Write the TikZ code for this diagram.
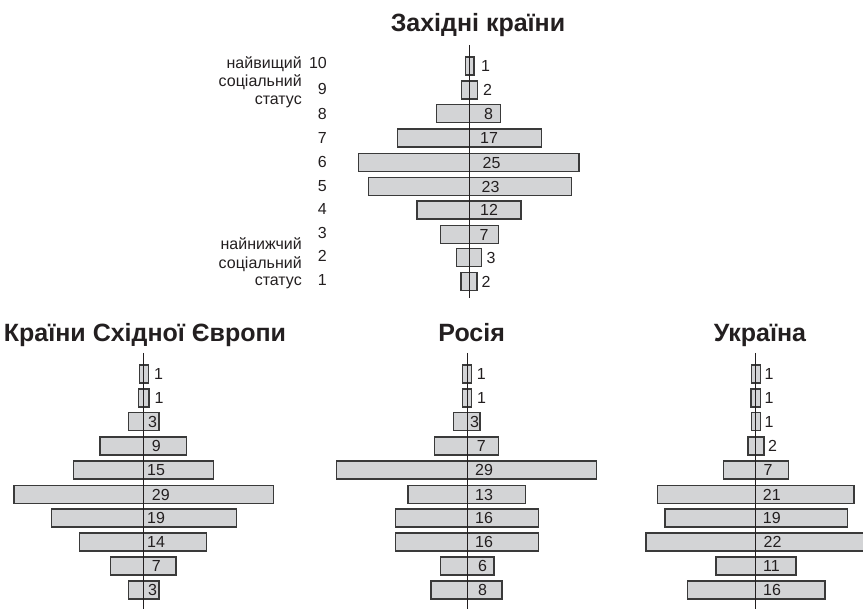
\documentclass[tikz,border=0pt]{standalone}
\usepackage{fontspec}
\setmainfont{Liberation Sans}
\definecolor{barfill}{HTML}{D3D4D6}
\definecolor{barline}{HTML}{3A3A3A}
\definecolor{ink}{HTML}{231F20}
\tikzset{
  barbox/.style={draw=barline, fill=barfill, line width=1.1pt},
  axisline/.style={draw=ink, line width=0.9pt},
  vallab/.style={anchor=west, inner sep=0pt, text=ink, font=\fontsize{16}{18}\selectfont},
  sidelab/.style={anchor=base east, inner sep=0pt, text=ink, font=\fontsize{16}{18}\selectfont},
  ttl/.style={anchor=base, inner sep=0pt, text=ink, font=\fontsize{25}{28}\selectfont\bfseries},
}
% #1 name, #2 centre y, #3 left x, #4 right x, #5 label, #6 label x
\newcommand\pbar[6]{%
  \draw[barbox] (#3,{#2-9}) rectangle (#4,{#2+9});
  \node[vallab] (#1) at (#6,#2) {#5};
}
\begin{document}
\begin{tikzpicture}[x=1pt,y=-1pt]
\useasboundingbox (0,0) rectangle (863,609);

% ---------- Західні країни ----------
\node[ttl] (t0) at (478,31.7) {Західні країни};
\pbar{a10}{66}{465.3}{474}{1}{481}
\pbar{a9}{90}{461.3}{477.3}{2}{483}
\pbar{a8}{113.5}{436.7}{500.7}{8}{484}
\pbar{a7}{138}{397.3}{541.7}{17}{480}
\pbar{a6}{162.5}{358.7}{579}{25}{482.5}
\pbar{a5}{186.5}{368.3}{571.3}{23}{481.5}
\pbar{a4}{210}{417}{521}{12}{480}
\pbar{a3}{234.5}{440.7}{498.3}{7}{479.5}
\pbar{a2}{257.5}{456.7}{481.7}{3}{486.5}
\pbar{a1}{281.5}{461}{477}{2}{481.5}
\coordinate (ta) at (469,45);
\coordinate (tb) at (469,298);
\draw[axisline] (ta) -- (tb);

% side labels
\node[sidelab] (n10) at (327,68.3) {10};
\node[sidelab] (n9) at (327,95) {9};
\node[sidelab] (n8) at (327,119.3) {8};
\node[sidelab] (n7) at (327,143.3) {7};
\node[sidelab] (n6) at (327,167.3) {6};
\node[sidelab] (n5) at (327,191.5) {5};
\node[sidelab] (n4) at (327,215) {4};
\node[sidelab] (n3) at (327,239) {3};
\node[sidelab] (n2) at (327,262) {2};
\node[sidelab] (n1) at (327,286) {1};
\node[sidelab] (h1) at (302,68.3) {найвищий};
\node[sidelab] (h2) at (302,86.8) {соціальний};
\node[sidelab] (h3) at (302,105) {статус};
\node[sidelab] (l1) at (302,250) {найнижчий};
\node[sidelab] (l2) at (302,268.5) {соціальний};
\node[sidelab] (l3) at (302,286) {статус};

% ---------- Країни Східної Європи ----------
\node[ttl] (t1) at (145,342) {Країни Східної Європи};
\pbar{b10}{374}{139.3}{148.3}{1}{154}
\pbar{b9}{398}{138.7}{149}{1}{154.5}
\pbar{b8}{421.5}{128.3}{159}{3}{148}
\pbar{b7}{446}{100}{186.7}{9}{151.7}
\pbar{b6}{470}{73.3}{213.3}{15}{147}
\pbar{b5}{494.5}{14}{273.3}{29}{151.7}
\pbar{b4}{518}{51.7}{236.7}{19}{147}
\pbar{b3}{542}{79.3}{206.7}{14}{147}
\pbar{b2}{566}{110.3}{176}{7}{151.7}
\pbar{b1}{590}{128.3}{159}{3}{148}
\coordinate (ba) at (143.3,353);
\coordinate (bb) at (143.3,609);
\draw[axisline] (ba) -- (bb);

% ---------- Росія ----------
\node[ttl] (t2) at (471.7,342) {Росія};
\pbar{c10}{374}{462.7}{471.7}{1}{476.7}
\pbar{c9}{398}{462.7}{471.7}{1}{477}
\pbar{c8}{421.5}{453.3}{480}{3}{470}
\pbar{c7}{446}{434.7}{498.7}{7}{476.7}
\pbar{c6}{470}{336.7}{596.7}{29}{475}
\pbar{c5}{494.5}{408}{525.7}{13}{475}
\pbar{c4}{518}{395.7}{538.7}{16}{475}
\pbar{c3}{542}{395.7}{538.7}{16}{475}
\pbar{c2}{566}{440.3}{494}{6}{478}
\pbar{c1}{590}{431}{502}{8}{478}
\coordinate (ca) at (467,353);
\coordinate (cb) at (467,609);
\draw[axisline] (ca) -- (cb);

% ---------- Україна ----------
\node[ttl] (t3) at (760,342) {Україна};
\pbar{d10}{374}{751.7}{760.3}{1}{764.5}
\pbar{d9}{398}{751}{760.3}{1}{764.5}
\pbar{d8}{421.5}{751.7}{760.3}{1}{764.5}
\pbar{d7}{446}{748}{764}{2}{768}
\pbar{d6}{470}{723.7}{788.3}{7}{763.3}
\pbar{d5}{494.5}{657.7}{854}{21}{762.7}
\pbar{d4}{518}{665}{847.3}{19}{762.7}
\pbar{d3}{542}{646}{863.3}{22}{763.5}
\pbar{d2}{566}{716}{796}{11}{763}
\pbar{d1}{590}{687.3}{825}{16}{763}
\coordinate (da) at (755.7,353);
\coordinate (db) at (755.7,609);
\draw[axisline] (da) -- (db);
\end{tikzpicture}
\end{document}
